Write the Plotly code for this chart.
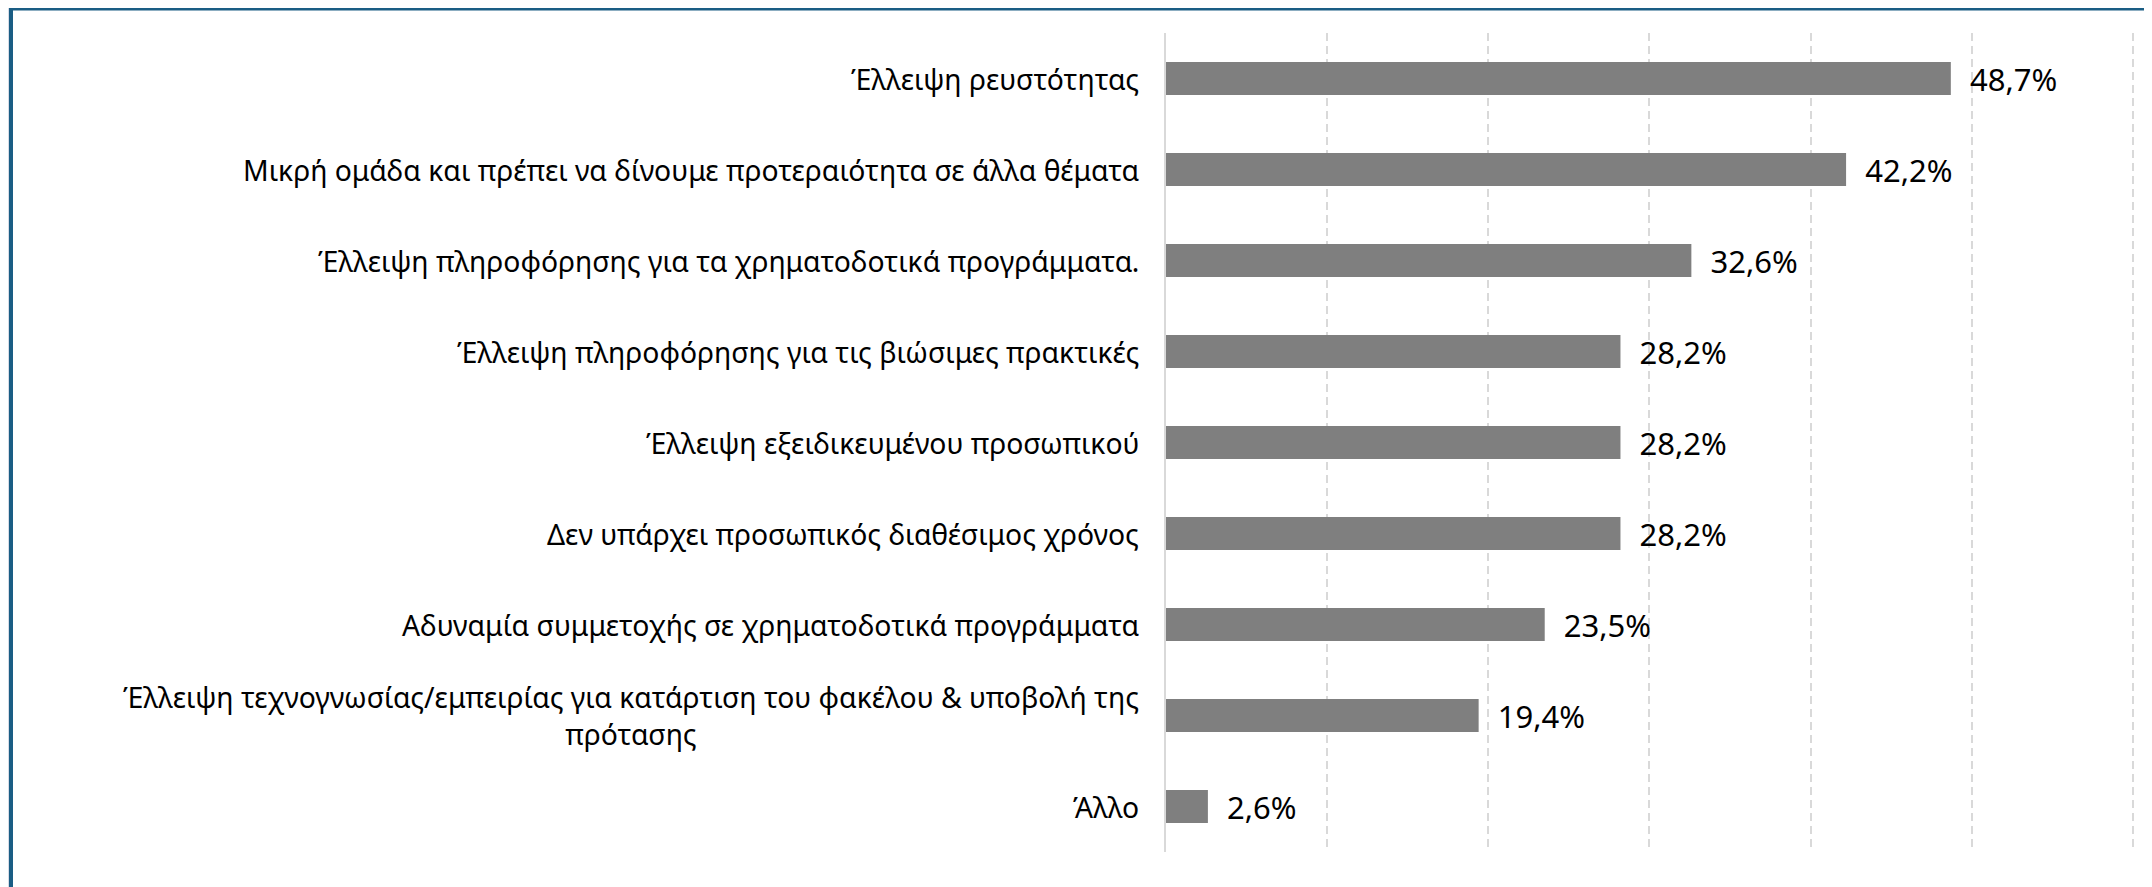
import plotly.graph_objects as go

# survey answers, top to bottom
categories = [
    "Έλλειψη ρευστότητας",
    "Μικρή ομάδα και πρέπει να δίνουμε προτεραιότητα σε άλλα θέματα",
    "Έλλειψη πληροφόρησης για τα χρηματοδοτικά προγράμματα.",
    "Έλλειψη πληροφόρησης για τις βιώσιμες πρακτικές",
    "Έλλειψη εξειδικευμένου προσωπικού",
    "Δεν υπάρχει προσωπικός διαθέσιμος χρόνος",
    "Αδυναμία συμμετοχής σε χρηματοδοτικά προγράμματα",
    "Έλλειψη τεχνογνωσίας/εμπειρίας για κατάρτιση του φακέλου & υποβολή της<br>πρότασης",
    "Άλλο",
]
values = [48.7, 42.2, 32.6, 28.2, 28.2, 28.2, 23.5, 19.4, 2.6]

# page body has an 8px margin, so figure coords are page coords - 8
W, H = 2152, 887
ml, mr, mt, mb = 1158, 19, 25, 43
pw, ph = W - ml - mr, H - mt - mb
FONT = "Noto Sans"

fig = go.Figure()
fig.add_trace(go.Bar(
    x=values, y=categories, orientation="h",
    marker=dict(color="#7f7f7f", line=dict(width=0)),
    texttemplate="\u00a0\u00a0%{x:.1f}%",
    textposition="outside", constraintext="none", cliponaxis=False,
    textfont=dict(family=FONT, size=31, color="#000000"),
    hoverinfo="skip",
))

# category labels as annotations so the two-line one is centred
for c in categories:
    fig.add_annotation(
        x=0, xref="paper", y=c, yref="y", xanchor="right", xshift=-25,
        text=c, showarrow=False, align="center",
        font=dict(family=FONT, size=28.3, color="#000000"),
    )

# frame around the chart (pixel -> paper)
def px_x(p):
    return (p - ml) / pw

def px_y(p):
    return (H - mb - p) / ph

fig.add_shape(
    type="rect", xref="paper", yref="paper", layer="below",
    x0=px_x(3), x1=px_x(2300), y0=px_y(1000), y1=px_y(0.5),
    fillcolor="white", line=dict(color="#1a5d84", width=4),
)

fig.update_layout(
    width=W, height=H, autosize=False,
    margin=dict(l=ml, r=mr, t=mt, b=mb, pad=0),
    paper_bgcolor="#d6dbe6", plot_bgcolor="rgba(0,0,0,0)",
    bargap=0.637, showlegend=False, separators=",.",
    font=dict(family=FONT, color="#000000"),
)
fig.update_xaxes(
    range=[0, 60.5], dtick=10, showticklabels=False, zeroline=False,
    showgrid=True, gridcolor="#d9d9d9", gridwidth=1.5, griddash="8px,5px",
    fixedrange=True,
)
fig.update_yaxes(
    autorange="reversed", showticklabels=False, showgrid=False,
    showline=True, linecolor="#d9d9d9", linewidth=1.5, ticks="",
    fixedrange=True,
)

fig.write_html("out.html")
